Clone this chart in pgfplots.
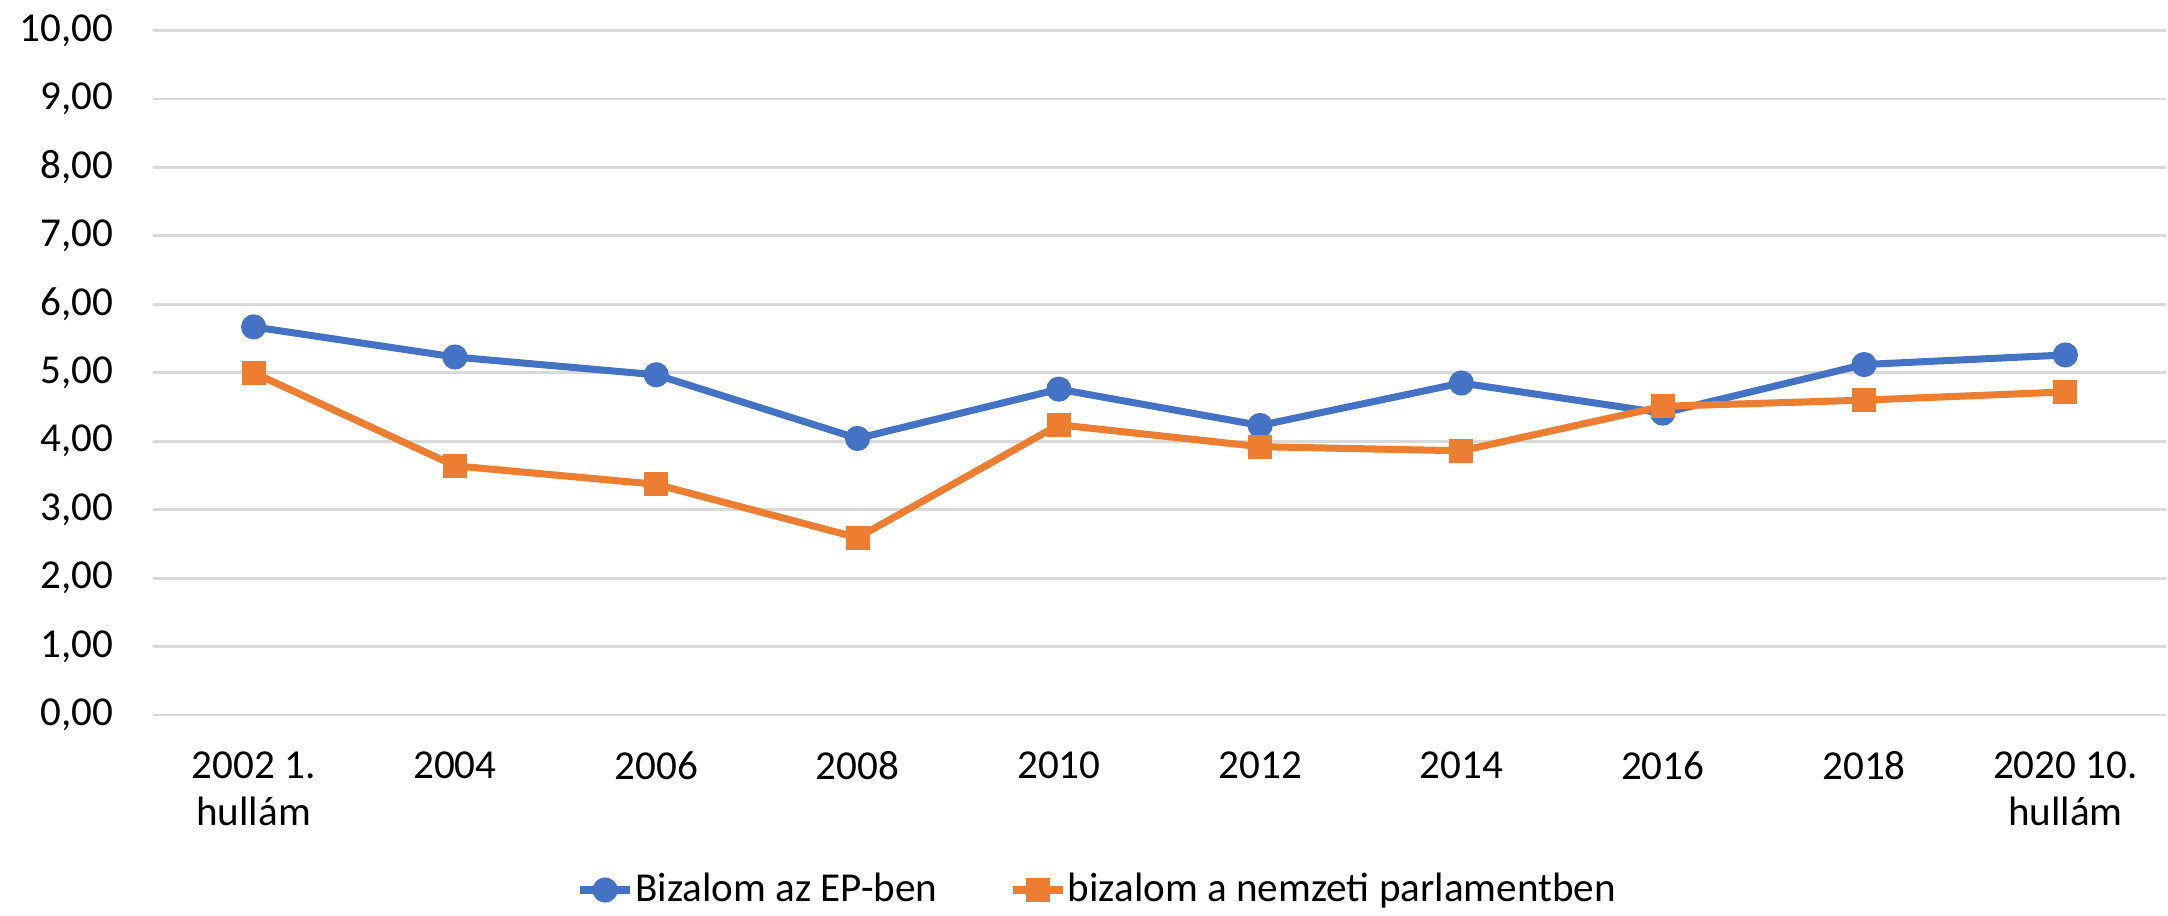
\documentclass[border=0pt]{standalone}
\usepackage{fontspec}
\setmainfont{Carlito}
\usepackage{pgfplots}
\pgfplotsset{compat=1.18}
\definecolor{epblue}{HTML}{4472C4}
\definecolor{nporange}{HTML}{ED7D31}
\definecolor{gridgray}{HTML}{D9D9D9}

\begin{document}
\begin{tikzpicture}[font=\fontsize{11.7}{13.5}\selectfont]
\useasboundingbox (-15.3mm,-20mm) rectangle (201.5mm,71.5mm);
\begin{axis}[
    scale only axis,
    width=201.3mm, height=68.45mm,
    xmin=-0.5, xmax=9.5,
    ymin=0, ymax=10,
    ytick={0,1,...,10},
    xtick=data,
    xticklabels={{2002 1.\\hullám},2004,2006,2008,2010,2012,2014,2016,2018,{2020 10.\\hullám}},
    xticklabel style={align=center, yshift=-2.4mm},
    yticklabel style={xshift=-2.7mm},
    /pgf/number format/.cd, fixed, fixed zerofill, precision=2, use comma, assume math mode=true,
    /pgfplots/.cd,
    axis line style={draw=none},
    major tick length=0pt,
    ymajorgrids,
    grid style={gridgray, line width=0.8pt},
    legend columns=2,
    legend style={at={(0.469,0)}, anchor=center, yshift=-17.5mm, draw=none,
        nodes={inner sep=0.5pt},
        /tikz/every even column/.append style={column sep=7mm}},
    legend cell align=left,
    legend image code/.code={
        \draw[mark repeat=2, mark phase=2] plot coordinates {(0cm,0cm) (0.25cm,0cm) (0.5cm,0cm)};
    },
]
\addplot[epblue, line width=2pt, mark=*, mark size=0.9mm] coordinates {
    (0,5.67) (1,5.23) (2,4.97) (3,4.04) (4,4.76)
    (5,4.23) (6,4.85) (7,4.41) (8,5.12) (9,5.26)
};
\addlegendentry{Bizalom az EP-ben}
\addplot[nporange, line width=2pt, mark=square*, mark size=0.85mm] coordinates {
    (0,5.00) (1,3.64) (2,3.37) (3,2.59) (4,4.24)
    (5,3.92) (6,3.86) (7,4.51) (8,4.60) (9,4.72)
};
\addlegendentry{bizalom a nemzeti parlamentben}
\end{axis}
\end{tikzpicture}
\end{document}
